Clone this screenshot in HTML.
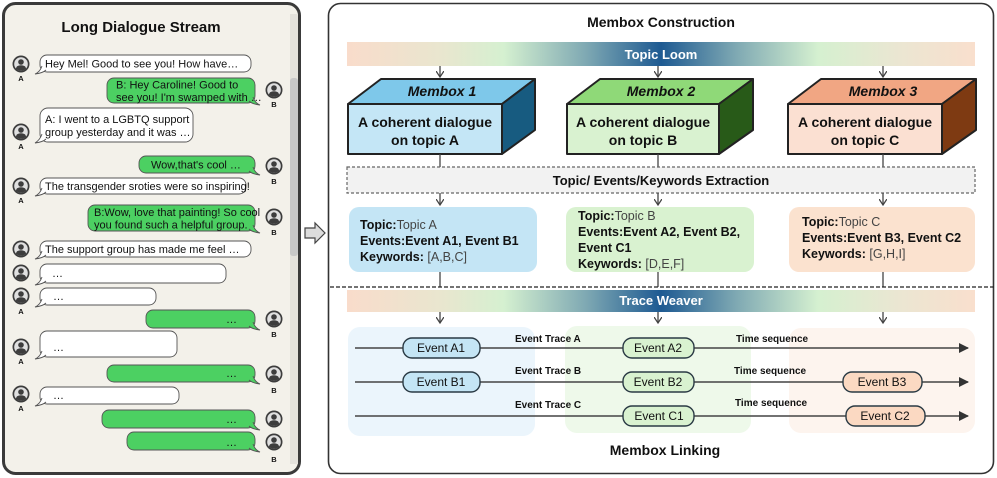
<!DOCTYPE html>
<html><head><meta charset="utf-8"><style>
html,body{margin:0;padding:0;background:#fff;}
svg{display:block;font-family:"Liberation Sans",Arial,sans-serif;}
.b{font-weight:bold;}
</style></head><body>
<svg width="997" height="478" viewBox="0 0 997 478" xmlns="http://www.w3.org/2000/svg">
<defs>
<linearGradient id="band" x1="0" x2="1" y1="0" y2="0">
<stop offset="0" stop-color="#f9dccb"/>
<stop offset="0.15" stop-color="#e9e6cf"/>
<stop offset="0.25" stop-color="#d5f0d0"/>
<stop offset="0.38" stop-color="#7fa9b3"/>
<stop offset="0.5" stop-color="#1e5a92"/>
<stop offset="0.62" stop-color="#7fa9b3"/>
<stop offset="0.75" stop-color="#d5f0d0"/>
<stop offset="0.88" stop-color="#ebe6d2"/>
<stop offset="1" stop-color="#f9dfcd"/>
</linearGradient>
<marker id="ar" markerWidth="8" markerHeight="8" refX="6" refY="4" orient="auto" markerUnits="userSpaceOnUse"><path d="M0,0 L6,4 L0,8" fill="none" stroke="#444" stroke-width="1.3"/></marker>
<marker id="tri" markerWidth="10" markerHeight="10" refX="9" refY="5" orient="auto" markerUnits="userSpaceOnUse"><path d="M0,0 L10,5 L0,10 Z" fill="#333"/></marker>
<g id="av"><circle r="8.5" fill="#3d3d3d"/><circle r="6.8" fill="#e0e0e0"/><circle cy="-2" r="2.8" fill="#3d3d3d"/><path d="M-5.2,4.6 Q-4.5,1.2 0,1.2 Q4.5,1.2 5.2,4.6 Q2.8,6.8 0,6.8 Q-2.8,6.8 -5.2,4.6 Z" fill="#3d3d3d"/></g>
</defs>

<!-- Left panel -->
<rect x="3.5" y="3.5" width="296" height="470" rx="12" fill="#f3f1ea" stroke="#3a3a3a" stroke-width="3"/>
<rect x="290" y="14" width="8" height="450" fill="#e4e2dc"/>
<rect x="290" y="78" width="8" height="178" rx="3" fill="#c8c8c8"/>
<text x="141" y="32" font-size="15" class="b" text-anchor="middle" fill="#111">Long Dialogue Stream</text>

<g stroke="#555" stroke-width="0.9">
<g fill="#fff">
<rect x="40" y="55" width="211" height="17" rx="7"/>
<rect x="40" y="108" width="153" height="34" rx="8"/>
<rect x="40" y="178" width="206" height="16" rx="7"/>
<rect x="40" y="241" width="211" height="16" rx="7"/>
<rect x="40" y="264" width="186" height="19" rx="7"/>
<rect x="40" y="288" width="116" height="17" rx="7"/>
<rect x="40" y="331" width="137" height="26" rx="7"/>
<rect x="40" y="387" width="139" height="17" rx="7"/>
</g>
<g fill="#4cd062">
<rect x="107" y="78" width="148" height="25" rx="7"/>
<rect x="139" y="156" width="116" height="17" rx="7"/>
<rect x="88" y="205" width="167" height="26" rx="7"/>
<rect x="146" y="310" width="109" height="18" rx="7"/>
<rect x="107" y="365" width="148" height="17" rx="7"/>
<rect x="102" y="410" width="153" height="18" rx="7"/>
<rect x="127" y="432" width="128" height="18" rx="7"/>
</g>
</g>
<g stroke="#555" stroke-width="0.9">
<g fill="#fff">
<path d="M42,66 Q40,72 35,74 Q43,73 46,70"/><path d="M42,134 Q40,140 35,143 Q43,142 46,139"/>
<path d="M42,188 Q40,194 35,196 Q43,195 46,192"/><path d="M42,251 Q40,257 35,259 Q43,258 46,255"/>
<path d="M42,277 Q40,283 35,285 Q43,284 46,281"/><path d="M42,299 Q40,305 35,307 Q43,306 46,303"/>
<path d="M42,351 Q40,357 35,359 Q43,358 46,355"/><path d="M42,398 Q40,404 35,406 Q43,405 46,402"/>
</g>
<g fill="#4cd062">
<path d="M253,97 Q255,103 260,105 Q252,104 249,101"/><path d="M253,167 Q255,173 260,175 Q252,174 249,171"/>
<path d="M253,225 Q255,231 260,233 Q252,232 249,229"/><path d="M253,322 Q255,328 260,330 Q252,329 249,326"/>
<path d="M253,376 Q255,382 260,384 Q252,383 249,380"/><path d="M253,422 Q255,428 260,430 Q252,429 249,426"/>
<path d="M253,444 Q255,450 260,452 Q252,451 249,448"/>
</g>
</g>
<g font-size="11" fill="#111">
<text x="45" y="67.5">Hey Mel! Good to see you! How have…</text>
<text x="116" y="88.5">B: Hey Caroline! Good to</text><text x="116" y="101">see you! I'm swamped with …</text>
<text x="45" y="123">A: I went to a LGBTQ support</text><text x="45" y="136">group yesterday and it was …</text>
<text x="151" y="168.5">Wow,that's cool …</text>
<text x="45" y="190">The transgender sroties were so inspiring!</text>
<text x="94" y="216">B:Wow, love that painting! So cool</text><text x="94" y="228.5">you found such a helpful group.</text>
<text x="45" y="253">The support group has made me feel …</text>
<text x="52" y="277">…</text><text x="53" y="300">…</text><text x="226" y="323">…</text>
<text x="53" y="351">…</text><text x="226" y="377">…</text><text x="53" y="399">…</text>
<text x="226" y="423">…</text><text x="226" y="446">…</text>
</g>
<g>
<use href="#av" x="21" y="64"/><use href="#av" x="21" y="132"/><use href="#av" x="21" y="186"/>
<use href="#av" x="21" y="249"/><use href="#av" x="21" y="273"/><use href="#av" x="21" y="296"/>
<use href="#av" x="21" y="347"/><use href="#av" x="21" y="394"/>
<use href="#av" x="274" y="90"/><use href="#av" x="274" y="166"/><use href="#av" x="274" y="217"/>
<use href="#av" x="274" y="319"/><use href="#av" x="274" y="374"/><use href="#av" x="274" y="419"/>
<use href="#av" x="274" y="442"/>
</g>
<g font-size="7.5" class="b" text-anchor="middle" fill="#111">
<text x="21" y="81">A</text><text x="21" y="149">A</text><text x="21" y="203">A</text><text x="21" y="314">A</text>
<text x="21" y="364">A</text><text x="21" y="411">A</text>
<text x="274" y="107">B</text><text x="274" y="184">B</text><text x="274" y="235">B</text><text x="274" y="337">B</text>
<text x="274" y="393">B</text><text x="274" y="462">B</text>
</g>

<path d="M305,228 L315,228 L315,223 L325,233 L315,243 L315,238 L305,238 Z" fill="#ddd" stroke="#444" stroke-width="1.2"/>

<rect x="328.5" y="3.5" width="665" height="470" rx="12" fill="#fff" stroke="#333" stroke-width="1.6"/>
<text x="661" y="27" font-size="14" class="b" text-anchor="middle" fill="#111">Membox Construction</text>
<rect x="347" y="42" width="628" height="24" fill="url(#band)"/>
<text x="661" y="59" font-size="13" class="b" text-anchor="middle" fill="#fff">Topic Loom</text>
<g stroke="#444" stroke-width="1.3" marker-end="url(#ar)">
<line x1="440" y1="66" x2="440" y2="77"/><line x1="658" y1="66" x2="658" y2="77"/><line x1="883" y1="66" x2="883" y2="77"/>
</g>

<g stroke="#222" stroke-width="2" stroke-linejoin="round">
<polygon points="348,104 381,79 535,79 502,104" fill="#7ec8ea"/>
<polygon points="502,104 535,79 535,130 502,154" fill="#175b80"/>
<rect x="348" y="104" width="154" height="50" fill="#c4e6f6"/>
<polygon points="567,104 600,79 753,79 719,104" fill="#8fd978"/>
<polygon points="719,104 753,79 753,130 719,154" fill="#285a18"/>
<rect x="567" y="104" width="152" height="50" fill="#d9f2d0"/>
<polygon points="788,104 821,79 976,79 942,104" fill="#f1a683"/>
<polygon points="942,104 976,79 976,130 942,154" fill="#7e3a12"/>
<rect x="788" y="104" width="154" height="50" fill="#fbe0d2"/>
</g>
<g font-size="14" class="b" text-anchor="middle" fill="#111">
<text x="442" y="96" font-style="italic">Membox 1</text>
<text x="661" y="96" font-style="italic">Membox 2</text>
<text x="883" y="96" font-style="italic">Membox 3</text>
<text x="425" y="127">A coherent dialogue</text><text x="425" y="145">on topic A</text>
<text x="643" y="127">A coherent dialogue</text><text x="643" y="145">on topic B</text>
<text x="865" y="127">A coherent dialogue</text><text x="865" y="145">on topic C</text>
</g>
<g stroke="#444" stroke-width="1.3">
<line x1="440" y1="154" x2="440" y2="167"/><line x1="658" y1="154" x2="658" y2="167"/><line x1="883" y1="154" x2="883" y2="167"/>
</g>
<rect x="347" y="167" width="628" height="26" fill="#f2f2f2" stroke="#666" stroke-width="1.2" stroke-dasharray="3,2"/>
<text x="661" y="185" font-size="13" class="b" text-anchor="middle" fill="#111">Topic/ Events/Keywords Extraction</text>
<g stroke="#444" stroke-width="1.3" marker-end="url(#ar)">
<line x1="440" y1="193" x2="440" y2="205"/><line x1="658" y1="193" x2="658" y2="205"/><line x1="883" y1="193" x2="883" y2="205"/>
</g>
<rect x="349" y="207" width="188" height="65" rx="10" fill="#c4e5f5"/>
<rect x="566" y="207" width="188" height="65" rx="10" fill="#d9f2d0"/>
<rect x="789" y="207" width="186" height="65" rx="10" fill="#fbe2cf"/>
<g font-size="12.5" fill="#111">
<text x="360" y="229"><tspan class="b">Topic:</tspan><tspan fill="#444">Topic A</tspan></text>
<text x="360" y="245" class="b">Events:Event A1, Event B1</text>
<text x="360" y="261"><tspan class="b">Keywords: </tspan><tspan fill="#444">[A,B,C]</tspan></text>
<text x="578" y="220"><tspan class="b">Topic:</tspan><tspan fill="#444">Topic B</tspan></text>
<text x="578" y="236" class="b">Events:Event A2, Event B2,</text>
<text x="578" y="252" class="b">Event C1</text>
<text x="578" y="268"><tspan class="b">Keywords: </tspan><tspan fill="#444">[D,E,F]</tspan></text>
<text x="802" y="226"><tspan class="b">Topic:</tspan><tspan fill="#444">Topic C</tspan></text>
<text x="802" y="242" class="b">Events:Event B3, Event C2</text>
<text x="802" y="258"><tspan class="b">Keywords: </tspan><tspan fill="#444">[G,H,I]</tspan></text>
</g>
<g stroke="#444" stroke-width="1.3">
<line x1="440" y1="272" x2="440" y2="287"/><line x1="658" y1="272" x2="658" y2="287"/><line x1="883" y1="272" x2="883" y2="287"/>
</g>
<line x1="330" y1="287" x2="994" y2="287" stroke="#222" stroke-width="1.3" stroke-dasharray="4,2"/>
<rect x="347" y="290" width="628" height="22" fill="url(#band)"/>
<text x="661" y="305" font-size="13" class="b" text-anchor="middle" fill="#fff">Trace Weaver</text>
<g stroke="#444" stroke-width="1.3" marker-end="url(#ar)">
<line x1="440" y1="312" x2="440" y2="323"/><line x1="658" y1="312" x2="658" y2="323"/><line x1="883" y1="312" x2="883" y2="323"/>
</g>
<rect x="348" y="327" width="187" height="109" rx="12" fill="#ebf5fc"/>
<rect x="565" y="326" width="186" height="107" rx="12" fill="#eef9ea"/>
<rect x="789" y="328" width="186" height="105" rx="12" fill="#fdf4ee"/>
<g stroke="#444" stroke-width="1.6" marker-end="url(#tri)">
<line x1="355" y1="348" x2="968" y2="348"/><line x1="355" y1="382" x2="968" y2="382"/><line x1="355" y1="416" x2="968" y2="416"/>
</g>
<g stroke="#2a3a44" stroke-width="1.4">
<rect x="403" y="338" width="77" height="20" rx="9" fill="#c4e5f5"/>
<rect x="403" y="372" width="77" height="20" rx="9" fill="#c4e5f5"/>
<rect x="623" y="338" width="71" height="20" rx="9" fill="#d9f2d0"/>
<rect x="623" y="372" width="71" height="20" rx="9" fill="#d9f2d0"/>
<rect x="623" y="406" width="71" height="20" rx="9" fill="#d9f2d0"/>
<rect x="843" y="372" width="79" height="20" rx="9" fill="#fbd9c2"/>
<rect x="846" y="406" width="79" height="20" rx="9" fill="#fbd9c2"/>
</g>
<g font-size="12" text-anchor="middle" fill="#111">
<text x="441" y="352">Event A1</text><text x="441" y="386">Event B1</text>
<text x="658" y="352">Event A2</text><text x="658" y="386">Event B2</text><text x="659" y="420">Event C1</text>
<text x="882" y="386">Event B3</text><text x="885" y="420">Event C2</text>
</g>
<g font-size="10" class="b" fill="#111">
<text x="515" y="342">Event Trace A</text><text x="515" y="374">Event Trace B</text><text x="515" y="408">Event Trace C</text>
<text x="736" y="342">Time sequence</text><text x="734" y="374">Time sequence</text><text x="735" y="406">Time sequence</text>
</g>
<text x="665" y="455" font-size="14" class="b" text-anchor="middle" fill="#111">Membox Linking</text>
</svg>
</body></html>
